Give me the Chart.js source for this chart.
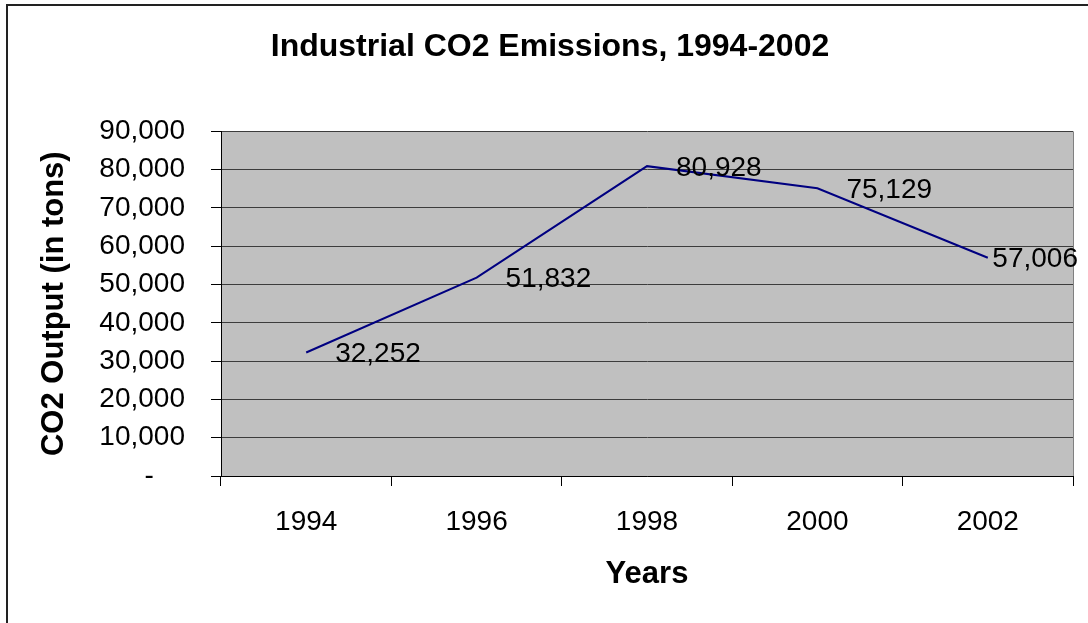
<!DOCTYPE html>
<html>
<head>
<meta charset="utf-8">
<script src="https://cdn.jsdelivr.net/npm/chart.js@4.4.1/dist/chart.umd.min.js"></script>
<style>
  html, body { margin: 0; padding: 0; background: #fff; }
  #wrap { width: 1088px; height: 623px; }
</style>
</head>
<body>
<div id="wrap"><canvas id="co2"></canvas></div>
<script>
const years = ["1994", "1996", "1998", "2000", "2002"];
const co2Tons = [32252, 51832, 80928, 75129, 57006];
const yMin = 0;
const yMax = 90000;
const yStep = 10000;

Chart.defaults.font.family = "'Liberation Sans', Arial, sans-serif";
Chart.defaults.color = "#000";

// white page, frame and the grey plot background
const backdrop = {
  id: "backdrop",
  beforeDraw(chart) {
    const { ctx, chartArea: a } = chart;
    ctx.save();
    ctx.fillStyle = "#fff";
    ctx.fillRect(0, 0, chart.width, chart.height);
    ctx.strokeStyle = "#222";
    ctx.lineWidth = 2;
    ctx.strokeRect(7, 5, chart.width + 20, chart.height + 20);
    ctx.fillStyle = "#c0c0c0";
    ctx.fillRect(a.left, a.top, a.right - a.left, a.bottom - a.top);
    ctx.restore();
  },
  beforeDatasetsDraw(chart) {
    const { ctx, chartArea: a } = chart;
    ctx.save();
    ctx.strokeStyle = "#808080";
    ctx.lineWidth = 1;
    ctx.beginPath();
    ctx.moveTo(Math.round(a.right) + 0.5, a.top);
    ctx.lineTo(Math.round(a.right) + 0.5, a.bottom);
    ctx.stroke();
    ctx.restore();
  },
};

// value labels to the right of each point
const valueLabels = {
  id: "valueLabels",
  afterDatasetsDraw(chart) {
    const { ctx } = chart;
    const meta = chart.getDatasetMeta(0);
    ctx.save();
    ctx.font = "28px 'Liberation Sans', Arial, sans-serif";
    ctx.fillStyle = "#000";
    ctx.textAlign = "left";
    ctx.textBaseline = "middle";
    meta.data.forEach((pt, i) => {
      const text = co2Tons[i].toLocaleString("en-US");
      const w = ctx.measureText(text).width;
      const x = Math.min(pt.x + 29, chart.width - 10 - w);
      ctx.fillText(text, x, pt.y + 2);
    });
    ctx.restore();
  },
};

new Chart(document.getElementById("co2"), {
  type: "line",
  data: {
    labels: years,
    datasets: [
      {
        label: "CO2 Output",
        data: co2Tons,
        borderColor: "#000080",
        backgroundColor: "#000080",
        borderWidth: 2,
        tension: 0,
        pointRadius: 0,
      },
    ],
  },
  options: {
    responsive: true,
    maintainAspectRatio: false,
    animation: false,
    layout: { padding: { top: 0, right: 0, bottom: 0, left: 12 } },
    plugins: {
      legend: { display: false },
      tooltip: { enabled: false },
      title: {
        display: true,
        text: "Industrial CO2 Emissions, 1994-2002",
        font: { size: 32, weight: "bold" },
        color: "#000",
        padding: { top: 28, bottom: 65 },
      },
    },
    scales: {
      x: {
        offset: true,
        afterFit(scale) {
          scale.height = 147;
        },
        grid: {
          offset: true,
          drawOnChartArea: false,
          tickLength: 10,
          tickColor: "#000",
        },
        border: { color: "#000", width: 1 },
        ticks: {
          padding: 19,
          font: { size: 28 },
          maxRotation: 0,
        },
        title: {
          display: true,
          text: "Years",
          font: { size: 31, weight: "bold" },
          padding: { top: 0, bottom: 30 },
        },
      },
      y: {
        min: yMin,
        max: yMax,
        afterFit(scale) {
          scale.width = 209;
        },
        grid: {
          color: "#3c3c3c",
          tickLength: 10,
          tickColor: "#000",
        },
        border: { color: "#000", width: 1 },
        ticks: {
          stepSize: yStep,
          padding: 26,
          font: { size: 28 },
          callback: function (value) {
            return value === 0 ? "-    " : value.toLocaleString("en-US");
          },
        },
        title: {
          display: true,
          text: "CO2 Output (in tons)",
          font: { size: 31, weight: "bold" },
          padding: { top: 24, bottom: 0 },
        },
      },
      // empty strip on the right so the plot stops short of the edge
      yRight: {
        position: "right",
        min: yMin,
        max: yMax,
        afterFit(scale) {
          scale.width = 15;
        },
        grid: { display: false },
        border: { display: false },
        ticks: { display: false },
      },
    },
  },
  plugins: [backdrop, valueLabels],
});
</script>
</body>
</html>
